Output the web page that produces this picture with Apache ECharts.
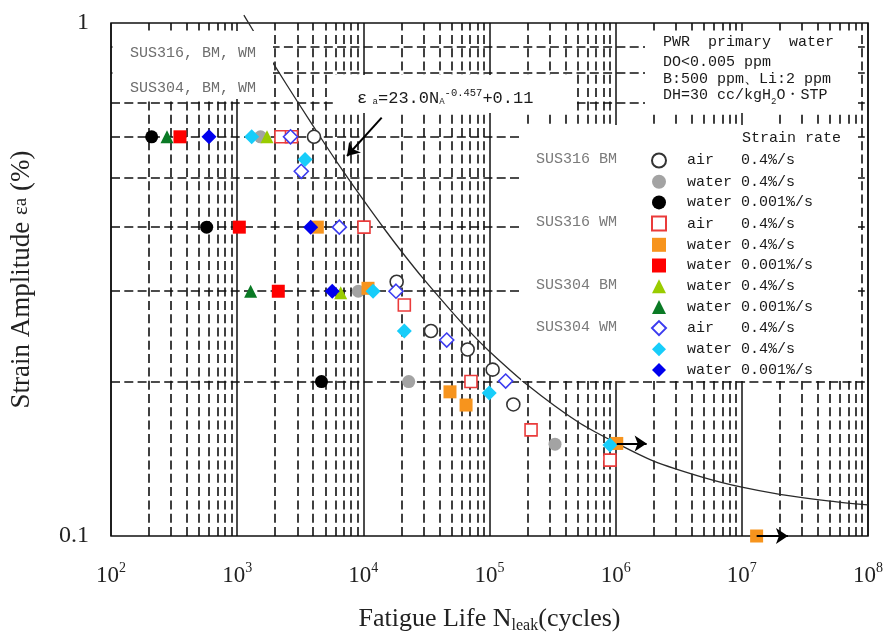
<!DOCTYPE html>
<html><head><meta charset="utf-8">
<script src="https://cdn.jsdelivr.net/npm/echarts@6/dist/echarts.min.js"></script>
<style>html,body{margin:0;padding:0;background:#fff}#c{width:884px;height:633px}</style>
</head><body><div id="c"></div>
<script>
// ---- axis ticks ----
const xTickExponents = [2, 3, 4, 5, 6, 7, 8];
const yTickLabels = ['0.1', '1'];
const yMinorGrid = [0.2, 0.3, 0.4, 0.5, 0.6, 0.7, 0.8, 0.9];
const minorMultipliers = [2, 3, 4, 5, 6, 7, 8, 9];

// ---- fitted curve  εa = 23.0 NA^-0.457 + 0.11 ----
const curveN   = [1130, 1500, 2000, 3000, 5000, 7000, 1e4, 1.5e4, 2e4, 3e4, 5e4, 7e4, 1e5, 2e5, 5e5, 1e6, 2e6, 5e6, 1e7, 2e7, 5e7, 1e8];
const curveEps = [1.036, 0.923, 0.823, 0.703, 0.579, 0.512, 0.452, 0.394, 0.359, 0.317, 0.274, 0.250, 0.229, 0.197, 0.167, 0.152, 0.140, 0.130, 0.1245, 0.1206, 0.117, 0.115];

// ---- data [N cycles, strain amplitude %] ----
const sus316BM_air   = [[4064, 0.6], [18370, 0.313], [34360, 0.251], [67120, 0.231], [105900, 0.211], [154500, 0.1805]];
const sus316BM_w04   = [[1531, 0.6], [9120, 0.3], [22900, 0.2], [330600, 0.151]];
const sus316BM_w0001 = [[210, 0.6], [573, 0.4], [4660, 0.2]];
const sus316WM_air   = [[2223, 0.6], [2696, 0.6], [10120, 0.4], [21130, 0.282], [71300, 0.2], [213500, 0.161], [901000, 0.1406]];
const sus316WM_w04   = [[4318, 0.4], [10890, 0.304], [48620, 0.191], [65200, 0.180], [1.02e6, 0.1515], [1.31e7, 0.1]];
const sus316WM_w0001 = [[352, 0.6], [1040, 0.4], [2118, 0.3]];
const sus304BM_w04   = [[1723, 0.6], [6617, 0.298]];
const sus304BM_w0001 = [[278, 0.6], [1279, 0.3]];
const sus304WM_air   = [[2648, 0.6], [3222, 0.514], [6452, 0.4], [18150, 0.3], [45810, 0.241], [134300, 0.2005]];
const sus304WM_w04   = [[1303, 0.6], [3451, 0.542], [11940, 0.3], [21130, 0.251], [99500, 0.190], [901000, 0.1505]];
const sus304WM_w0001 = [[598, 0.6], [3828, 0.4], [5673, 0.3]];

// run-out arrows (start, end) and the equation pointer
const runOutArrows = [[[1.02e6, 0.1515], [1.76e6, 0.1515]], [[1.31e7, 0.1], [2.32e7, 0.1]]];
const eqPointer = [[13980, 0.654], [7423, 0.5505]];

const seriesNames = ['316BM air', '316BM w04', '316BM w0001', '316WM air', '316WM w04', '316WM w0001',
  '304BM w04', '304BM w0001', '304WM air', '304WM w04', '304WM w0001'];
const legendLabels = ['air   0.4%/s', 'water 0.4%/s', 'water 0.001%/s', 'air   0.4%/s', 'water 0.4%/s', 'water 0.001%/s',
  'water 0.4%/s', 'water 0.001%/s', 'air   0.4%/s', 'water 0.4%/s', 'water 0.001%/s'];
const groupLabels = ['SUS316 BM', 'SUS316 WM', 'SUS304 BM', 'SUS304 WM'];
const groupRows = [0, 3, 6, 8];

const xMinorGrid = [];
for (let e = 2; e < 8; e++) minorMultipliers.forEach(m => xMinorGrid.push(m * Math.pow(10, e)));

const MONO = 'Liberation Mono';
const SERIF = 'Liberation Serif';

function sc(name, data, symbol, size, color, open) {
  return {
    type: 'scatter', name, data, symbol, symbolSize: size, z: 6, clip: false,
    itemStyle: open ? { color: '#ffffff', borderColor: color, borderWidth: 1.6, opacity: 1 }
                    : { color: color, borderWidth: 0, opacity: 1 }
  };
}

const chart = echarts.init(document.getElementById('c'), null, { renderer: 'canvas' });
const rowY = i => 159.5 + i * 20.98;

const option = {
  animation: false,
  backgroundColor: '#ffffff',
  grid: { left: 111, top: 23, right: 16, bottom: 97, containLabel: false, outerBoundsMode: 'none',
    show: true, borderColor: '#111', borderWidth: 1.5, backgroundColor: 'transparent' },
  xAxis: {
    type: 'log', logBase: 10, min: 100, max: 1e8,
    axisLine: { show: false }, axisTick: { show: false },
    splitLine: { show: true, lineStyle: { color: '#111', width: 1.5, type: 'solid' } },
    axisLabel: {
      margin: 25,
      formatter: v => { const e = Math.round(Math.log10(v)); return xTickExponents.includes(e) ? '{b|10}{s|' + e + '}' : ''; },
      rich: {
        b: { fontFamily: SERIF, fontSize: 23, color: '#222', lineHeight: 26, verticalAlign: 'bottom' },
        s: { fontFamily: SERIF, fontSize: 14, color: '#222', lineHeight: 14, verticalAlign: 'top' }
      }
    },
    name: 'Fatigue Life N{sub|leak}(cycles)', nameLocation: 'middle', nameGap: 70,
    nameTextStyle: {
      fontFamily: SERIF, fontSize: 26, color: '#222',
      rich: {
        sub: { fontFamily: SERIF, fontSize: 16, color: '#222', verticalAlign: 'bottom', lineHeight: 14, padding: [0, 0, -2, 0] }
      }
    }
  },
  yAxis: {
    type: 'log', logBase: 10, min: 0.1, max: 1,
    axisLine: { show: false }, axisTick: { show: false }, splitLine: { show: false },
    axisLabel: { margin: 22, fontFamily: SERIF, fontSize: 24, color: '#222', formatter: v => v > 0.5 ? yTickLabels[1] : yTickLabels[0] },
    name: 'Strain Amplitude {e|ε}{a|a} (%)', nameLocation: 'middle', nameRotate: 90, nameGap: 76,
    nameTextStyle: {
      fontFamily: SERIF, fontSize: 27, color: '#222',
      rich: {
        e: { fontFamily: SERIF, fontSize: 21, color: '#222' },
        a: { fontFamily: SERIF, fontSize: 19, color: '#222' }
      }
    }
  },
  legend: {
    orient: 'vertical', left: 651, top: 152.5, padding: 0, itemWidth: 14, itemHeight: 14, itemGap: 5.7,
    selectedMode: false, z: 12, data: seriesNames,
    formatter: name => legendLabels[seriesNames.indexOf(name)],
    textStyle: { fontFamily: MONO, fontSize: 15, color: '#1a1a1a', lineHeight: 14, padding: [0, 0, 0, 16] }
  },
  graphic: [
    { type: 'rect', z: 4, silent: true, shape: { x: 112.5, y: 31, width: 160.5, height: 68 }, style: { fill: '#fff' } },
    { type: 'rect', z: 4, silent: true, shape: { x: 335, y: 75, width: 242, height: 38 }, style: { fill: '#fff' } },
    { type: 'rect', z: 4, silent: true, shape: { x: 645, y: 31, width: 213, height: 82 }, style: { fill: '#fff' } },
    { type: 'rect', z: 4, silent: true, shape: { x: 521, y: 125, width: 337, height: 256 }, style: { fill: '#fff' } },
    { type: 'text', z: 10, x: 130, y: 53, style: { text: 'SUS316, BM, WM', font: '15px "Liberation Mono"', fill: '#6e6e6e', verticalAlign: 'middle' } },
    { type: 'text', z: 10, x: 130, y: 88, style: { text: 'SUS304, BM, WM', font: '15px "Liberation Mono"', fill: '#6e6e6e', verticalAlign: 'middle' } },
    { type: 'text', z: 10, x: 357, y: 97, style: {
        text: '{m|ε}{sb| a}{m|=23.0N}{sb|A}{sp|-0.457}{m|+0.11}', verticalAlign: 'middle',
        rich: {
          m: { fontFamily: MONO, fontSize: 17, fill: '#1a1a1a', lineHeight: 19, verticalAlign: 'bottom' },
          sb: { fontFamily: MONO, fontSize: 9, fill: '#1a1a1a', lineHeight: 9, verticalAlign: 'bottom' },
          sp: { fontFamily: MONO, fontSize: 10.5, fill: '#1a1a1a', lineHeight: 10, verticalAlign: 'top' }
        } } },
    { type: 'text', z: 10, x: 663, y: 42, style: { text: 'PWR  primary  water', font: '15px "Liberation Mono"', fill: '#1a1a1a', verticalAlign: 'middle' } },
    { type: 'text', z: 10, x: 663, y: 62, style: { text: 'DO<0.005 ppm', font: '15px "Liberation Mono"', fill: '#1a1a1a', verticalAlign: 'middle' } },
    { type: 'text', z: 10, x: 663, y: 79.5, style: { text: 'B:500 ppm、Li:2 ppm', font: '15px "Liberation Mono"', fill: '#1a1a1a', verticalAlign: 'middle' } },
    { type: 'text', z: 10, x: 663, y: 97, style: {
        text: '{m|DH=30 cc/kgH}{s|2}{m|O・STP}', verticalAlign: 'middle',
        rich: {
          m: { fontFamily: MONO, fontSize: 15, fill: '#1a1a1a', lineHeight: 16, verticalAlign: 'top' },
          s: { fontFamily: MONO, fontSize: 9, fill: '#1a1a1a', lineHeight: 18, verticalAlign: 'bottom' }
        } } },
    { type: 'text', z: 10, x: 742, y: 138, style: { text: 'Strain rate', font: '15px "Liberation Mono"', fill: '#1a1a1a', verticalAlign: 'middle' } }
  ].concat(groupLabels.map((t, i) => ({
    type: 'text', z: 10, x: 536, y: rowY(groupRows[i]),
    style: { text: t, font: '15px "Liberation Mono"', fill: '#7a7a7a', verticalAlign: 'middle' }
  }))),
  series: [
    { type: 'line', name: 'grid', data: [], z: 1, silent: true,
      markLine: { silent: true, z: 1, animation: false, symbol: ['none', 'none'], label: { show: false },
        lineStyle: { color: '#111', type: [9, 4.3], width: 1.6 },
        data: xMinorGrid.map(v => ({ xAxis: v })).concat(yMinorGrid.map(v => ({ yAxis: v }))) } },
    { type: 'line', name: 'fit', data: curveN.map((n, i) => [n, curveEps[i]]), z: 2, clip: false,
      showSymbol: false, symbol: 'none', smooth: 0.3, silent: true, lineStyle: { color: '#2a2a2a', width: 1.3 } },
    sc(seriesNames[0], sus316BM_air, 'circle', 13, '#333333', true),
    sc(seriesNames[1], sus316BM_w04, 'circle', 13, '#a3a3a3', false),
    sc(seriesNames[2], sus316BM_w0001, 'circle', 13, '#000000', false),
    sc(seriesNames[3], sus316WM_air, 'rect', 12, '#ea3b3b', true),
    sc(seriesNames[4], sus316WM_w04, 'rect', 13, '#f7941d', false),
    sc(seriesNames[5], sus316WM_w0001, 'rect', 13, '#ff0000', false),
    sc(seriesNames[6], sus304BM_w04, 'triangle', 13, '#99cc00', false),
    sc(seriesNames[7], sus304BM_w0001, 'triangle', 13, '#0a7a25', false),
    sc(seriesNames[8], sus304WM_air, 'diamond', 14, '#3b3bf0', true),
    sc(seriesNames[9], sus304WM_w04, 'diamond', 15, '#17cdfa', false),
    sc(seriesNames[10], sus304WM_w0001, 'diamond', 15, '#0000ee', false),
    { type: 'line', name: 'arrows', data: [], z: 7, silent: true,
      markLine: { silent: true, z: 7, animation: false, symbol: ['none', 'arrow'], symbolSize: 12, label: { show: false },
        lineStyle: { color: '#000', type: 'solid', width: 2 },
        data: runOutArrows.concat([eqPointer]).map(p => [{ coord: p[0] }, { coord: p[1] }]) } }
  ]
};
chart.setOption(option);
</script></body></html>
